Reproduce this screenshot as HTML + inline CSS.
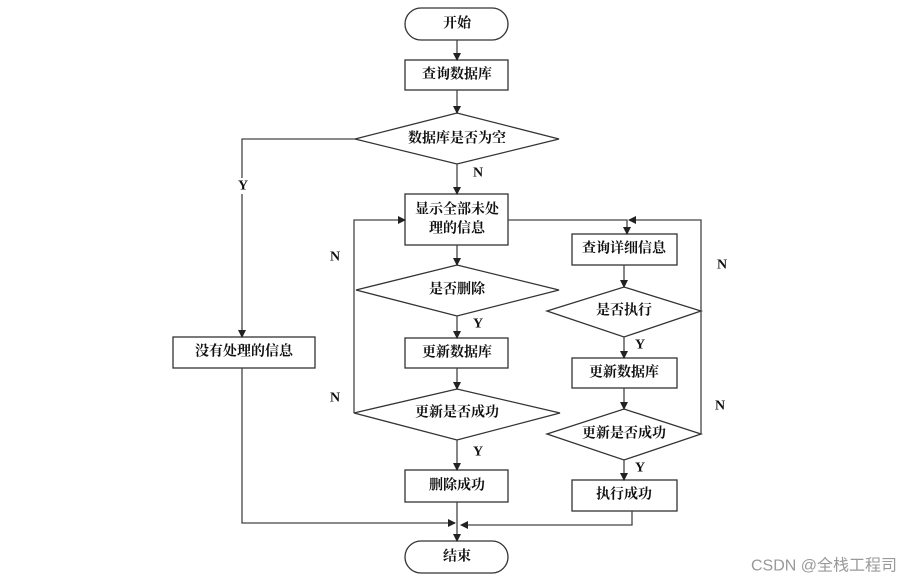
<!DOCTYPE html>
<html><head><meta charset="utf-8"><style>
html,body{margin:0;padding:0;background:#fff;}
svg{display:block;}
text{font-family:"Liberation Serif","Noto Serif CJK SC",serif;font-weight:bold;font-size:14px;fill:#111;text-anchor:middle;dominant-baseline:central;}
</style></head><body>
<svg width="905" height="581" viewBox="0 0 905 581" xmlns="http://www.w3.org/2000/svg">
<defs><marker id="a" markerWidth="8" markerHeight="8" refX="7" refY="4" orient="auto" markerUnits="userSpaceOnUse"><path d="M0,0 L8,4 L0,8 z" fill="#222"/></marker></defs>
<g fill="none" stroke="#333" stroke-width="1.3">
<rect x="405" y="8" width="103" height="32" rx="16"/>
<rect x="405" y="60" width="103" height="30"/>
<polygon points="355,139 457,113 559,139 457,164"/>
<rect x="405" y="194" width="103" height="51"/>
<polygon points="356,290 457,265 559,290 457,316"/>
<rect x="405" y="338" width="103" height="30"/>
<polygon points="354,413 457,389 560,413 457,440"/>
<rect x="405" y="470" width="103" height="32"/>
<rect x="405" y="541" width="103" height="32" rx="16"/>
<rect x="173" y="337" width="142" height="31"/>
<rect x="572" y="234" width="105" height="31"/>
<polygon points="547,311 624,287 701,311 624,337"/>
<rect x="572" y="358" width="105" height="30"/>
<polygon points="547,434 624,409 701,434 624,460"/>
<rect x="572" y="480" width="105" height="31"/>
</g>
<g fill="none" stroke="#444" stroke-width="1.3" marker-end="url(#a)">
<line x1="457" y1="40" x2="457" y2="60"/>
<line x1="457" y1="90" x2="457" y2="113"/>
<line x1="457" y1="164" x2="457" y2="194"/>
<line x1="457" y1="245" x2="457" y2="265"/>
<line x1="457" y1="316" x2="457" y2="338"/>
<line x1="457" y1="368" x2="457" y2="389"/>
<line x1="457" y1="440" x2="457" y2="470"/>
<line x1="457" y1="502" x2="457" y2="541"/>
<polyline points="355,139 242,139 242,337"/>
<polyline points="354,413 354,220 405,220"/>
<polyline points="242,368 242,523 455,523"/>
<polyline points="632,511 632,525 461,525"/>
<line x1="624" y1="265" x2="624" y2="287"/>
<line x1="624" y1="337" x2="624" y2="358"/>
<line x1="624" y1="388" x2="624" y2="409"/>
<line x1="624" y1="460" x2="624" y2="480"/>
<polyline points="508,220 627,220 627,234"/>
<polyline points="701,311 701,220 629,220"/>
</g>
<line x1="701" y1="434" x2="701" y2="311" stroke="#444" stroke-width="1.3"/>
<rect x="236" y="178" width="14" height="16" fill="#fff"/>
<text x="457" y="24">开始</text>
<text x="457" y="75">查询数据库</text>
<text x="457" y="139">数据库是否为空</text>
<text x="457" y="210">显示全部未处</text>
<text x="457" y="229">理的信息</text>
<text x="457" y="290">是否删除</text>
<text x="457" y="353">更新数据库</text>
<text x="457" y="413">更新是否成功</text>
<text x="457" y="486">删除成功</text>
<text x="457" y="557">结束</text>
<text x="244" y="352">没有处理的信息</text>
<text x="624" y="249">查询详细信息</text>
<text x="624" y="311">是否执行</text>
<text x="624" y="373">更新数据库</text>
<text x="624" y="434">更新是否成功</text>
<text x="624" y="495">执行成功</text>
<text x="243" y="186">Y</text>
<text x="478" y="173">N</text>
<text x="478" y="324">Y</text>
<text x="478" y="452">Y</text>
<text x="640" y="345">Y</text>
<text x="640" y="468">Y</text>
<text x="335" y="257">N</text>
<text x="335" y="398">N</text>
<text x="722" y="265">N</text>
<text x="720" y="406">N</text>
<text x="824" y="566" style="font-family:'Liberation Sans','Noto Sans CJK SC',sans-serif;font-weight:normal;font-size:16px;fill:#999;">CSDN @全栈工程司</text>
</svg>
</body></html>
